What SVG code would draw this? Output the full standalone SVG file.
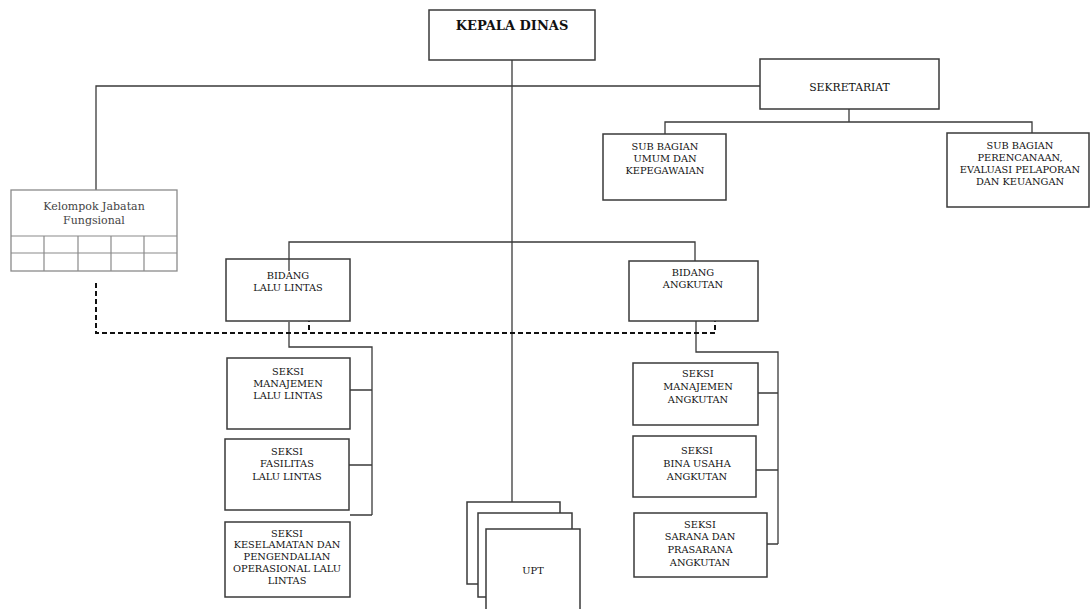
<svg xmlns="http://www.w3.org/2000/svg" width="1091" height="609" viewBox="0 0 1091 609">
<style>
.box{fill:#fff;stroke:#3a3a3a;stroke-width:1.5}
.gbox{fill:#fff;stroke:#8a8a8a;stroke-width:1.3}
.gl{stroke:#8a8a8a;stroke-width:1.2;fill:none}
.ln{stroke:#3a3a3a;stroke-width:1.3;fill:none}
.dash{stroke:#111;stroke-width:2;stroke-dasharray:5,3;fill:none}
.t{font-family:"DejaVu Serif","Liberation Serif",serif;font-size:9.8px;fill:#111;text-anchor:middle}
.tb{font-family:"DejaVu Serif","Liberation Serif",serif;font-size:13px;font-weight:bold;fill:#111;text-anchor:middle}
.tk{font-family:"DejaVu Serif","Liberation Serif",serif;font-size:11px;fill:#444;text-anchor:middle}
</style>
<rect width="1091" height="609" fill="#fff"/>
<g id="connectors">
<path class="ln" d="M512,60V502"/>
<path class="ln" d="M96,190V86H760"/>
<path class="ln" d="M849,109V122M665,134V122H1032V133"/>
<path class="ln" d="M289,271V242H695V261"/>
<path class="ln" d="M289,322V347H372V515M350,390H372M349,465H372M350,515H372"/>
<path class="ln" d="M696,321V352H778V544M758,393H778M756,470H778M767,544H778"/>
<path class="dash" d="M96,283V333H715V315M309,317V333"/>
</g>
<g id="kepala-dinas">
<rect class="box" x="429" y="10" width="166" height="50"/>
<text class="tb" x="512" y="30">KEPALA DINAS</text>
</g>
<g id="sekretariat">
<rect class="box" x="760" y="59" width="179" height="50"/>
<text class="t" x="849.5" y="91" style="font-size:10.8px">SEKRETARIAT</text>
</g>
<g id="sub-umum">
<rect class="box" x="603" y="134" width="123" height="66"/>
<text class="t" x="665" y="150">SUB BAGIAN</text>
<text class="t" x="665" y="162">UMUM DAN</text>
<text class="t" x="665" y="174">KEPEGAWAIAN</text>
</g>
<g id="sub-perencanaan">
<rect class="box" x="947" y="133" width="142" height="74"/>
<text class="t" x="1020" y="149">SUB BAGIAN</text>
<text class="t" x="1020" y="161">PERENCANAAN,</text>
<text class="t" x="1020" y="173">EVALUASI PELAPORAN</text>
<text class="t" x="1020" y="185">DAN KEUANGAN</text>
</g>
<g id="kelompok">
<rect class="gbox" x="11" y="190" width="166" height="81"/>
<path class="gl" d="M11,236H177M11,253H177M44,236V271M78,236V271M111,236V271M144,236V271"/>
<text class="tk" x="94" y="210">Kelompok Jabatan</text>
<text class="tk" x="94" y="224">Fungsional</text>
</g>
<g id="bidang-lalu-lintas">
<rect class="box" x="226" y="259" width="124" height="62"/>
<path class="ln" d="M289,259V271"/>
<text class="t" x="288" y="279">BIDANG</text>
<text class="t" x="288" y="291">LALU LINTAS</text>
</g>
<g id="bidang-angkutan">
<rect class="box" x="629" y="261" width="129" height="60"/>
<text class="t" x="693" y="276">BIDANG</text>
<text class="t" x="693" y="288">ANGKUTAN</text>
</g>
<g id="seksi-manajemen-ll">
<rect class="box" x="227" y="358" width="123" height="71"/>
<text class="t" x="288" y="375">SEKSI</text>
<text class="t" x="288" y="387">MANAJEMEN</text>
<text class="t" x="288" y="399">LALU LINTAS</text>
</g>
<g id="seksi-fasilitas-ll">
<rect class="box" x="225" y="439" width="124" height="71"/>
<text class="t" x="287" y="455">SEKSI</text>
<text class="t" x="287" y="467">FASILITAS</text>
<text class="t" x="287" y="480">LALU LINTAS</text>
</g>
<g id="seksi-keselamatan">
<rect class="box" x="225" y="522" width="125" height="75"/>
<text class="t" x="287" y="537">SEKSI</text>
<text class="t" x="287" y="548">KESELAMATAN DAN</text>
<text class="t" x="287" y="560">PENGENDALIAN</text>
<text class="t" x="287" y="572">OPERASIONAL  LALU</text>
<text class="t" x="287" y="584">LINTAS</text>
</g>
<g id="seksi-manajemen-angkutan">
<rect class="box" x="633" y="363" width="125" height="62"/>
<text class="t" x="698" y="377">SEKSI</text>
<text class="t" x="698" y="390">MANAJEMEN</text>
<text class="t" x="698" y="403">ANGKUTAN</text>
</g>
<g id="seksi-bina-usaha">
<rect class="box" x="633" y="436" width="123" height="61"/>
<text class="t" x="697" y="454">SEKSI</text>
<text class="t" x="697" y="467">BINA USAHA</text>
<text class="t" x="697" y="480">ANGKUTAN</text>
</g>
<g id="seksi-sarana">
<rect class="box" x="634" y="513" width="133" height="64"/>
<text class="t" x="700" y="528">SEKSI</text>
<text class="t" x="700" y="540">SARANA DAN</text>
<text class="t" x="700" y="553">PRASARANA</text>
<text class="t" x="700" y="566">ANGKUTAN</text>
</g>
<g id="upt">
<rect class="box" x="467" y="502" width="93" height="82"/>
<rect class="box" x="478" y="513" width="94" height="84"/>
<rect class="box" x="486" y="529" width="94" height="86"/>
<text class="t" x="533" y="574">UPT</text>
</g>
</svg>
